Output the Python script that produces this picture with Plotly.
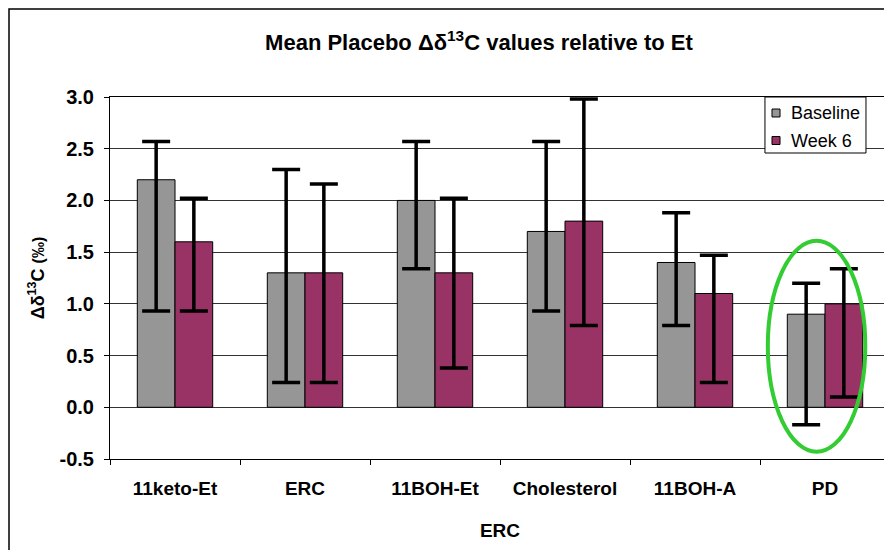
import plotly.graph_objects as go

categories = ["11keto-Et", "ERC", "11BOH-Et", "Cholesterol", "11BOH-A", "PD"]
series_names = ["Baseline", "Week 6"]
baseline = [2.2, 1.3, 2.0, 1.7, 1.4, 0.9]
baseline_hi = [2.57, 2.30, 2.57, 2.57, 1.88, 1.20]
baseline_lo = [0.93, 0.24, 1.34, 0.93, 0.79, -0.17]
week6 = [1.6, 1.3, 1.3, 1.8, 1.1, 1.0]
week6_hi = [2.02, 2.16, 2.02, 2.98, 1.47, 1.34]
week6_lo = [0.93, 0.24, 0.38, 0.79, 0.24, 0.10]
y_ticks = [-0.5, 0.0, 0.5, 1.0, 1.5, 2.0, 2.5, 3.0]
y_ticktext = ["-0.5", "0.0", "0.5", "1.0", "1.5", "2.0", "2.5", "3.0"]

# highlight ellipse around PD group (category index units, y value units)
ellipse_x = [4.56, 5.31]
ellipse_y = [-0.43, 1.61]

FONT = "Liberation Sans, Arial, sans-serif"
COLORS = ["#969696", "#993366"]


def err(vals, hi, lo):
    return dict(type="data", symmetric=False,
                array=[h - v for v, h in zip(vals, hi)],
                arrayminus=[v - l for v, l in zip(vals, lo)],
                color="black", thickness=3.5, width=14)


fig = go.Figure()
fig.add_trace(go.Bar(name=series_names[0], x=categories, y=baseline,
                     marker=dict(color=COLORS[0], line=dict(color="black", width=1)),
                     error_y=err(baseline, baseline_hi, baseline_lo), showlegend=False))
fig.add_trace(go.Bar(name=series_names[1], x=categories, y=week6,
                     marker=dict(color=COLORS[1], line=dict(color="black", width=1)),
                     error_y=err(week6, week6_hi, week6_lo), showlegend=False))

fig.add_shape(type="circle", xref="x", yref="y",
              x0=ellipse_x[0], x1=ellipse_x[1], y0=ellipse_y[0], y1=ellipse_y[1],
              line=dict(color="#33cc33", width=4), layer="above")

# outer chart border (paper edge)
fig.add_shape(type="rect", xref="paper", yref="paper",
              x0=-101.0 / 780, x1=1.05, y0=-0.4, y1=1 + 88.0 / 362,
              line=dict(color="black", width=1.5), layer="above")

# legend box (drawn like the original chart's legend)
fig.add_shape(type="rect", xref="paper", yref="paper",
              x0=0.8397, x1=0.9692, y0=0.8453, y1=1.0,
              line=dict(color="black", width=1), fillcolor="white", layer="above")
row_y = [0.9558, 0.8798]
for name, col, ry in zip(series_names, COLORS, row_y):
    fig.add_shape(type="rect", xref="paper", yref="paper",
                  x0=0.8487, x1=0.8590, y0=ry - 0.011, y1=ry + 0.011,
                  line=dict(color="black", width=1), fillcolor=col, layer="above")
    fig.add_annotation(text=name, xref="paper", yref="paper", x=0.8705, y=ry,
                       xanchor="left", yanchor="middle", showarrow=False,
                       font=dict(size=18, family=FONT, color="black"))

fig.update_layout(
    width=892, height=550,
    margin=dict(l=102, r=10, t=89, b=99, autoexpand=False),
    paper_bgcolor="white", plot_bgcolor="white",
    barmode="group", bargap=0.42, bargroupgap=0,
    font=dict(family=FONT, color="black"),
    title=dict(text="<b>Mean Placebo Δδ<sup>13</sup>C values relative to Et</b>",
               x=0.528, xanchor="center", y=0.937, yanchor="middle",
               font=dict(size=22, family=FONT)),
    showlegend=False,
)
fig.update_xaxes(
    automargin=False,
    showline=True, linecolor="black", linewidth=1, mirror=True,
    ticks="outside", tickson="boundaries", ticklen=5, tickcolor="black",
    ticklabelstandoff=12,
    tickfont=dict(size=19, family=FONT, weight="bold"),
    title=dict(text="<b>ERC</b>", font=dict(size=19, family=FONT), standoff=25),
)
fig.update_yaxes(
    automargin=False,
    range=[-0.5, 3.0], tickvals=y_ticks, ticktext=y_ticktext,
    showline=True, linecolor="black", linewidth=1, mirror=True,
    ticks="outside", ticklen=5, tickcolor="black", ticklabelstandoff=6,
    showgrid=True, gridcolor="#333333", gridwidth=1, zeroline=False,
    tickfont=dict(size=20, family=FONT, weight="bold"),
    title=dict(text="<b>Δδ<sup>13</sup>C <span style='font-size:16px'>(‰)</span></b>",
               font=dict(size=18, family=FONT), standoff=10),
)

fig.write_html("out.html")
